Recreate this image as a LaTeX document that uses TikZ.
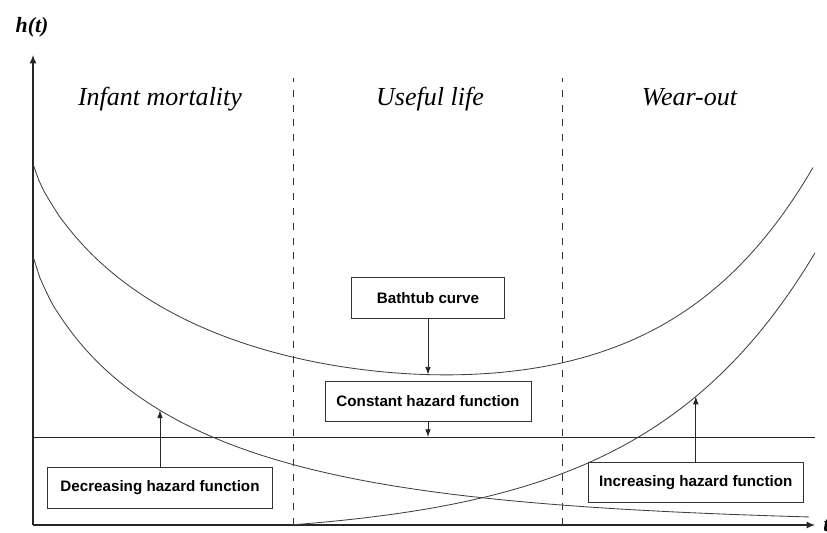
\documentclass[tikz,border=0pt]{standalone}
\usepackage{fontspec}
\setmainfont{Liberation Serif}
\setsansfont{Liberation Sans}
\usetikzlibrary{arrows.meta}
\tikzset{
    axis/.style={line width=0.9pt,color=black!85,-{Latex[length=6pt,width=5pt]}},
    curve/.style={line width=0.6pt,color=black!75},
    divider/.style={line width=0.7pt,color=black!80,dash pattern=on 5pt off 5.5pt},
    hazbox/.style={draw,line width=0.6pt,color=black!80,text=black,minimum height=1.02cm,
        font=\sffamily\bfseries\fontsize{10.8}{13}\selectfont},
    pointer/.style={line width=0.6pt,color=black!85,-{Latex[length=5.5pt,width=4pt]}},
    phase/.style={anchor=base,font=\itshape\fontsize{18.5}{22}\selectfont},
    declare function={
        decr(\u)=6.75*exp(-(\u/3.875)^0.78);
        incr(\u)=0.325*(exp((\u-6.425)/4.25)-1);
        tub(\u)=2.35+6.67*exp(-(\u/4.325)^0.8)+0.02937*exp(\u/3.627);
    }
}

\begin{document}
\begin{tikzpicture}
    \useasboundingbox (-0.825,-0.175) rectangle (19.85,13.125);
    \coordinate (Origin) at (0,0);
    % axes
    \draw[axis] (Origin) -- (0,11.75) coordinate (YEnd);
    \draw[axis] (Origin) -- (19.55,0) coordinate (XEnd);
    \node[font=\bfseries\itshape\fontsize{15.5}{18}\selectfont] (HLabel) at (-0.025,12.45) {h(t)};
    \node[anchor=west,inner sep=0pt,xshift=5.7pt,font=\bfseries\itshape\fontsize{15.5}{18}\selectfont] (TLabel) at (XEnd) {t};
    % phases
    \draw[divider] (6.5,0) -- (6.5,11.175);
    \draw[divider] (13.225,0) -- (13.225,11.175);
    \node[phase] (Infant) at (3.175,10.475) {Infant mortality};
    \node[phase] (Useful) at (9.925,10.475) {Useful life};
    \node[phase] (WearOut) at (16.41,10.475) {Wear-out};
    % curves
    \draw[curve,color=black!85] (0,2.2) coordinate (ConstStart) -- (19.55,2.2) coordinate (ConstEnd);
    \draw[curve] plot[domain=0.01:19.4,samples=120] (\x,{decr(\x)});
    \draw[curve] plot[domain=6.425:19.55,samples=100] (\x,{incr(\x)});
    \draw[curve] plot[domain=0.01:19.5,samples=150] (\x,{tub(\x)});
    \coordinate (TubTip) at (9.875,{tub(9.875)});
    \coordinate (ConstTip) at (9.875,2.2);
    \coordinate (DecTip) at (3.175,{decr(3.175)});
    \coordinate (IncTip) at (16.57,{incr(16.57)});
    % labels
    \node[hazbox,minimum width=3.825cm] (BathBox) at (9.875,5.675) {Bathtub curve};
    \node[hazbox,minimum width=5.15cm] (ConstBox) at (9.875,3.0875) {Constant hazard function};
    \node[hazbox,minimum width=5.64cm] (DecBox) at (3.175,0.925) {Decreasing hazard function};
    \node[hazbox,minimum width=5.37cm] (IncBox) at (16.57,1.0625) {Increasing hazard function};
    \draw[pointer] (BathBox) -- (TubTip);
    \draw[pointer] (ConstBox) -- (ConstTip);
    \draw[pointer] (DecBox) -- (DecTip);
    \draw[pointer] (IncBox) -- (IncTip);
\end{tikzpicture}
\end{document}
